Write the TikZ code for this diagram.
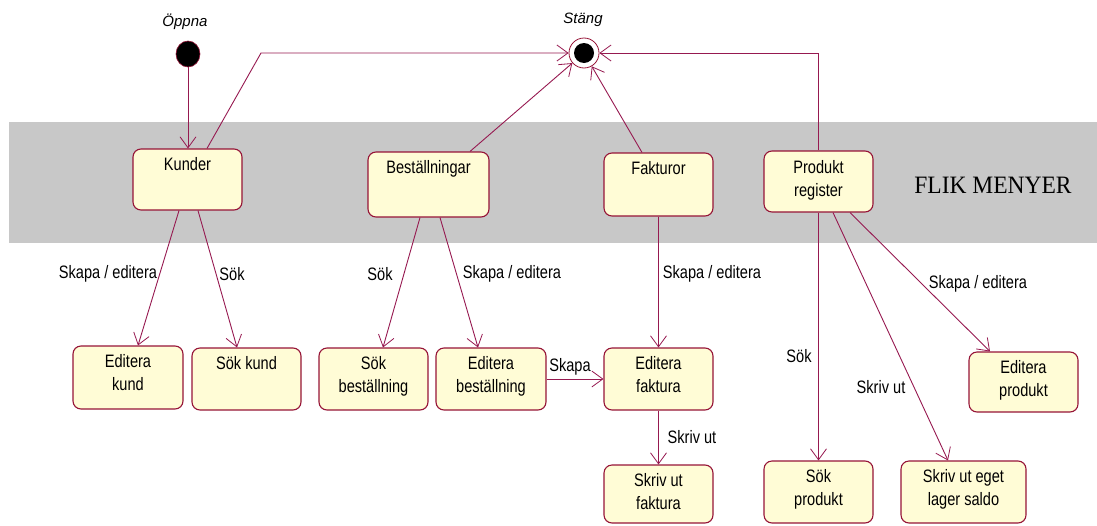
\documentclass[tikz,border=0pt]{standalone}
\usepackage{fontspec}
\setmainfont{Liberation Sans}[FakeStretch=0.81]
\newfontfamily\pseudofont{Liberation Sans}
\newfontfamily\bandfont{Liberation Serif}
\usetikzlibrary{arrows.meta,shapes.geometric}
\definecolor{wire}{RGB}{150,25,80}
\definecolor{rim}{RGB}{150,20,55}
\definecolor{cream}{RGB}{255,252,214}
\definecolor{band}{RGB}{200,200,200}
\tikzset{
  stbox/.style={draw=rim, line width=1.1pt, fill=cream, rounded corners=8pt,
    inner sep=0pt},
  boxtext/.style={anchor=north, inner sep=0pt, align=center,
    font=\fontsize{18}{23}\selectfont},
  edgetext/.style={inner sep=0pt, font=\fontsize{18}{20}\selectfont},
  pseudotext/.style={inner sep=0pt, font=\pseudofont\itshape\fontsize{15}{17}\selectfont},
  trans/.style={draw=wire, line width=0.9pt,
    -{Straight Barb[length=11pt,width=16pt,line width=0.8pt]}},
}
\newcommand{\mkstate}[6]{%
  \node[stbox, minimum width=#4, minimum height=#5] (#1) at (#2) {};
  \node[boxtext] (#1-txt) at ([yshift=-#6]#1.north) {#3};}
\begin{document}
\begin{tikzpicture}[x=1pt, y=-1pt]
\useasboundingbox (0,0) rectangle (1097,525);
% menu band
\fill[band] (9,122) rectangle (1097,243);
\node[font=\bandfont\fontsize{25}{27}\selectfont, inner sep=0pt, xscale=0.94] (flik) at (993,185) {FLIK MENYER};

% pseudo states
\node[ellipse, fill=black, draw=rim, line width=0.6pt, minimum width=24, minimum height=26, inner sep=0pt] (oppna) at (188,54) {};
\node[pseudotext] (oppna-lbl) at (185,22) {Öppna};
\node[circle, draw=rim, line width=0.8pt, minimum size=30, inner sep=0pt] (stang) at (584,53) {};
\fill[black] (stang.center) circle (10);
\node[pseudotext] (stang-lbl) at (583,20) {Stäng};

% tab states
\mkstate{kunder}{187.5,179.5}{Kunder}{109}{61}{9}
\mkstate{best}{428.5,184.5}{Beställningar}{121}{65}{9}
\mkstate{fakt}{658.5,184.5}{Fakturor}{109}{63}{9}
\mkstate{prod}{818.5,181.5}{Produkt\\register}{109}{61}{10}

% sub states
\mkstate{edkund}{128,377.5}{Editera\\kund}{110}{63}{9}
\mkstate{sokkund}{246.5,379}{Sök kund}{109}{62}{9}
\mkstate{sokbest}{373.5,379}{Sök\\beställning}{109}{62}{9}
\mkstate{edbest}{491,379}{Editera\\beställning}{110}{62}{9}
\mkstate{edfakt}{658.5,379}{Editera\\faktura}{109}{62}{9}
\mkstate{skrfakt}{658.5,494}{Skriv ut\\faktura}{109}{58}{9}
\mkstate{sokprod}{818.5,492}{Sök\\produkt}{109}{62}{9}
\mkstate{skrlager}{963.5,492}{Skriv ut eget\\lager saldo}{125}{62}{9}
\mkstate{edprod}{1023.5,382}{Editera\\produkt}{109}{60}{9}

% transitions
\draw[trans] (oppna.south) -- (oppna.south |- kunder.north);
\coordinate (kbend) at (261,53);
\draw[trans] ([xshift=19.5]kunder.north) -- (kbend) -- (stang.west);
\draw[trans] ([xshift=41.5]best.north) -- (stang);
\draw[trans] ([xshift=-16.5]fakt.north) -- (stang);
\draw[trans] (prod.north) |- (stang.east);

\draw[trans] ([xshift=-8.5]kunder.south) -- ([xshift=10]edkund.north);
\draw[trans] ([xshift=10.5]kunder.south) -- ([xshift=-9.5]sokkund.north);
\draw[trans] ([xshift=-8.5]best.south) -- ([xshift=9.5]sokbest.north);
\draw[trans] ([xshift=11.5]best.south) -- ([xshift=-13]edbest.north);
\draw[trans] (fakt.south) -- (edfakt.north);
\draw[trans] (edbest.east) -- (edfakt.west);
\draw[trans] (edfakt.south) -- (skrfakt.north);
\draw[trans] (prod.south) -- (sokprod.north);
\draw[trans] ([xshift=14.5]prod.south) -- ([xshift=-15.5]skrlager.north);
\draw[trans] ([xshift=31.5]prod.south) -- ([xshift=-33.5]edprod.north);

% transition labels
\node[edgetext] (l-edkund) at (108,274) {Skapa / editera};
\node[edgetext] (l-sokkund) at (232,274) {Sök};
\node[edgetext] (l-sokbest) at (380,274) {Sök};
\node[edgetext] (l-edbest) at (512,274) {Skapa / editera};
\node[edgetext] (l-edfakt) at (712,274) {Skapa / editera};
\node[edgetext] (l-skapa) at (570,367) {Skapa};
\node[edgetext] (l-skrfakt) at (692,437) {Skriv ut};
\node[edgetext] (l-sokprod) at (799,356) {Sök};
\node[edgetext] (l-skrlager) at (881,387) {Skriv ut};
\node[edgetext] (l-edprod) at (978,284) {Skapa / editera};
\end{tikzpicture}
\end{document}
